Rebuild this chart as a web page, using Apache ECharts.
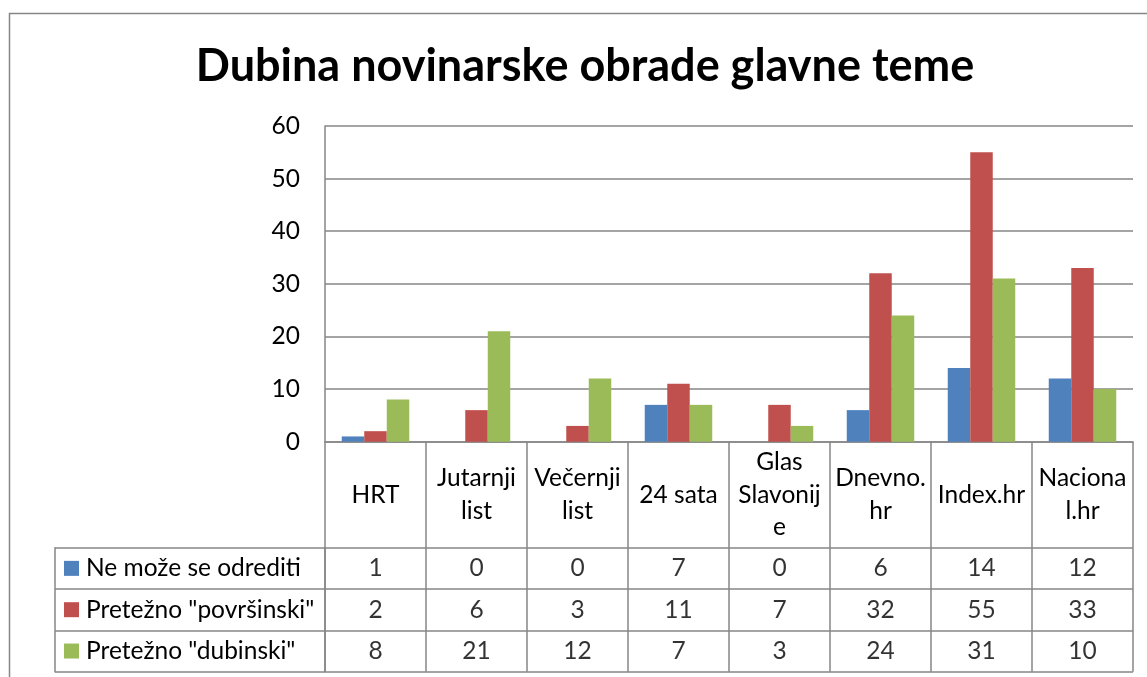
<!DOCTYPE html>
<html>
<head>
<meta charset="utf-8">
<script src="https://cdn.jsdelivr.net/npm/echarts@6/dist/echarts.min.js"></script>
<style>
html,body{margin:0;padding:0;background:#fff;}
#c{width:1147px;height:677px;}
</style>
</head>
<body>
<div id="c"></div>
<script>
const categories = ["HRT", "Jutarnji list", "Večernji list", "24 sata", "Glas Slavonije", "Dnevno.hr", "Index.hr", "Nacional.hr"];
const categoryLabels = ["HRT", "Jutarnji\nlist", "Večernji\nlist", "24 sata", "Glas\nSlavonij\ne", "Dnevno.\nhr", "Index.hr", "Naciona\nl.hr"];
const seriesNames = ["Ne može se odrediti", "Pretežno \"površinski\"", "Pretežno \"dubinski\""];
const neMozeSe = [1, 0, 0, 7, 0, 6, 14, 12];
const povrsinski = [2, 6, 3, 11, 7, 32, 55, 33];
const dubinski = [8, 21, 12, 7, 3, 24, 31, 10];
const yTicks = [0, 10, 20, 30, 40, 50, 60];
const colors = ["#4F81BD", "#C0504D", "#9BBB59"];

const seriesValues = [neMozeSe, povrsinski, dubinski];
const FONT = "Lato";
const GRAY = "#868686";
const FS = 24.5;

const chart = echarts.init(document.getElementById('c'), null, {renderer: 'canvas'});

const barSeries = seriesNames.map((n, k) => ({
  name: n,
  type: 'bar',
  xAxisIndex: 0,
  yAxisIndex: 0,
  data: seriesValues[k],
  barWidth: 22.5,
  barGap: '0%',
  itemStyle: {color: colors[k]},
  silent: true
}));

const cellData = [];
seriesValues.forEach((arr, r) => {
  arr.forEach((v, i) => cellData.push([categories[i], seriesNames[r], v]));
});

const keyRich = {t: {fontFamily: FONT, fontSize: FS, color: '#000', padding: [0, 0, 0, 7]}};
colors.forEach((c, i) => { keyRich['s' + i] = {width: 15, height: 15, backgroundColor: c}; });

const option = {
  animation: false,
  backgroundColor: '#fff',
  textStyle: {fontFamily: FONT},
  title: {
    text: 'Dubina novinarske obrade glavne teme',
    left: 580,
    top: 39,
    textAlign: 'center',
    textStyle: {fontFamily: FONT, fontWeight: 'bold', fontSize: 45, color: '#000'}
  },
  graphic: [{
    type: 'rect',
    shape: {x: 9.5, y: 13.5, width: 1160, height: 700},
    style: {fill: 'none', stroke: GRAY, lineWidth: 1.5},
    silent: true
  }],
  grid: [
    {left: 325, top: 126, width: 808, height: 315.7, containLabel: false},
    {left: 325, top: 441.7, width: 808, height: 106, containLabel: false},
    {left: 325, top: 547.7, width: 808, height: 124, containLabel: false}
  ],
  xAxis: [
    {
      type: 'category', gridIndex: 0, data: categories,
      axisLine: {show: true, lineStyle: {color: GRAY, width: 1.5}},
      axisTick: {show: false},
      splitLine: {show: false},
      axisLabel: {
        interval: 0, fontFamily: FONT, fontSize: FS, color: '#000',
        lineHeight: 32.5, margin: 53, verticalAlign: 'middle', align: 'center',
        formatter: (v, i) => categoryLabels[i]
      }
    },
    {
      type: 'category', gridIndex: 1, data: categories,
      axisLine: {show: false}, axisTick: {show: false}, axisLabel: {show: false},
      splitLine: {show: true, interval: 0, lineStyle: {color: GRAY, width: 1.5}}
    },
    {
      type: 'category', gridIndex: 2, data: categories,
      axisLine: {show: false}, axisTick: {show: false}, axisLabel: {show: false},
      splitLine: {show: true, interval: 0, lineStyle: {color: GRAY, width: 1.5}}
    }
  ],
  yAxis: [
    {
      type: 'value', gridIndex: 0, min: yTicks[0], max: yTicks[yTicks.length - 1], interval: 10,
      axisLine: {show: true, lineStyle: {color: GRAY, width: 1.5}},
      axisTick: {show: false},
      splitLine: {show: true, lineStyle: {color: GRAY, width: 1.5}},
      axisLabel: {fontFamily: FONT, fontSize: FS, color: '#000', margin: 25}
    },
    {
      type: 'category', gridIndex: 1, data: ['h'],
      axisLine: {show: false}, axisTick: {show: false}, axisLabel: {show: false},
      splitLine: {show: false}
    },
    {
      type: 'category', gridIndex: 2, data: seriesNames, inverse: true,
      axisLine: {show: true, lineStyle: {color: GRAY, width: 1.5}},
      axisTick: {show: true, interval: 0, length: 270, inside: false, lineStyle: {color: GRAY, width: 1.5}},
      axisLabel: {
        show: true, interval: 0, align: 'left', margin: 261,
        formatter: (v, i) => '{s' + i + '|}{t|' + v + '}',
        rich: keyRich
      },
      splitLine: {show: true, interval: 0, lineStyle: {color: GRAY, width: 1.5}}
    },
    {
      type: 'category', gridIndex: 2, data: seriesNames, inverse: true, position: 'left', offset: 270,
      axisLine: {show: true, lineStyle: {color: GRAY, width: 1.5}},
      axisTick: {show: false}, axisLabel: {show: false}, splitLine: {show: false}
    }
  ],
  series: barSeries.concat([{
    name: 'cells',
    type: 'scatter',
    xAxisIndex: 2,
    yAxisIndex: 2,
    data: cellData,
    symbolSize: 1,
    itemStyle: {color: 'rgba(0,0,0,0)'},
    silent: true,
    label: {
      show: true, position: 'inside',
      fontFamily: FONT, fontSize: FS, color: '#000',
      formatter: p => String(p.value[2])
    }
  }])
};
chart.setOption(option);
</script>
</body>
</html>
